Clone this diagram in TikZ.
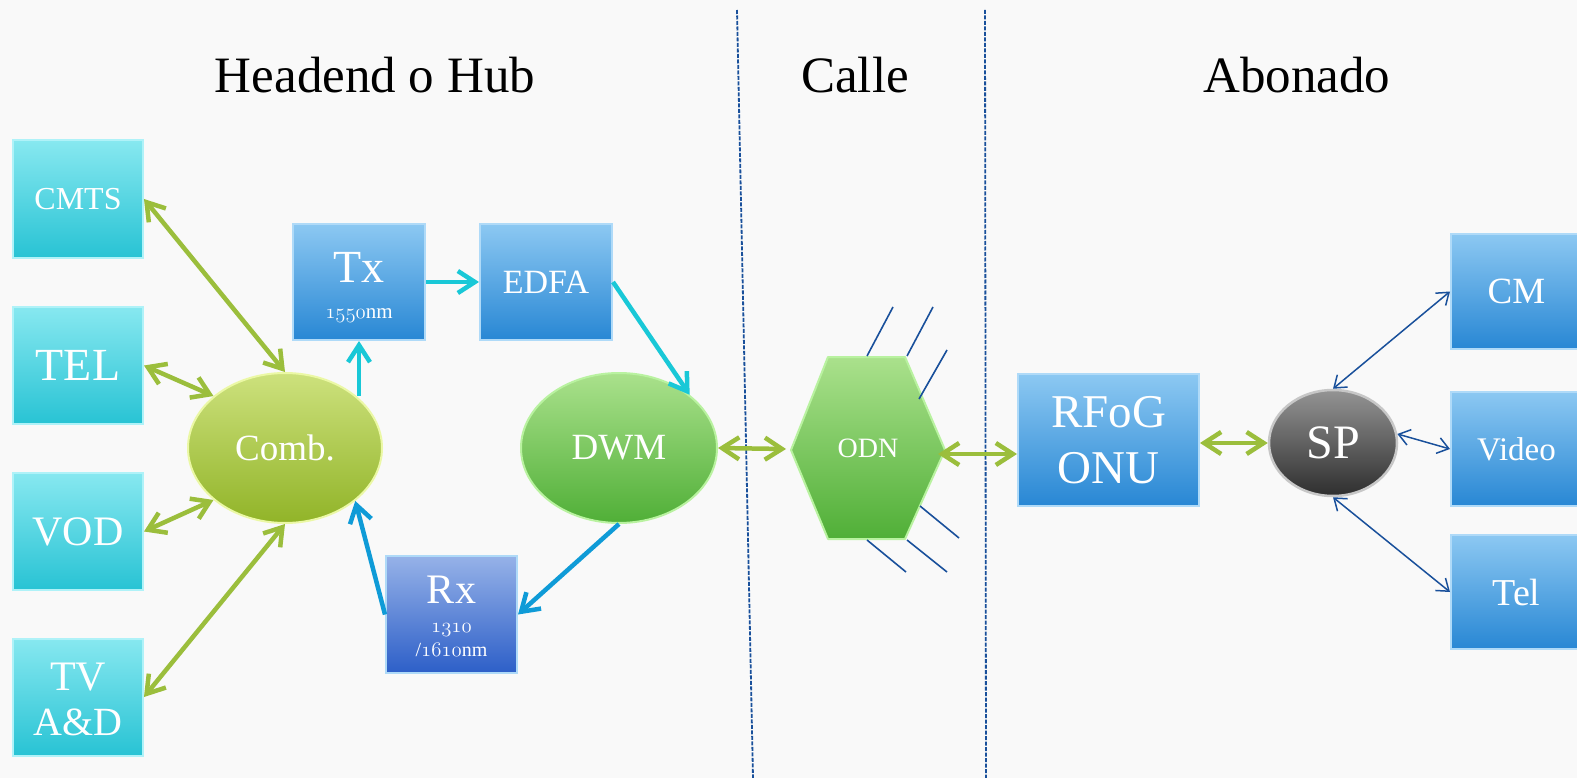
\documentclass[tikz,border=0pt]{standalone}
\usepackage{fontspec}
\setmainfont{Liberation Serif}
\usetikzlibrary{arrows.meta,shapes.geometric,calc}
\definecolor{bg}{RGB}{249,249,249}
\definecolor{grn}{RGB}{155,190,60}
\definecolor{cy}{RGB}{25,200,215}
\definecolor{bl}{RGB}{15,155,215}
\definecolor{dk}{RGB}{25,80,155}
\definecolor{cytop}{RGB}{135,232,240}
\definecolor{cybot}{RGB}{40,195,212}
\definecolor{cyedge}{RGB}{175,242,248}
\definecolor{bltop}{RGB}{140,200,242}
\definecolor{blbot}{RGB}{40,135,212}
\definecolor{bledge}{RGB}{175,218,248}
\definecolor{rxtop}{RGB}{150,178,232}
\definecolor{rxbot}{RGB}{45,95,200}
\definecolor{cbtop}{RGB}{205,225,125}
\definecolor{cbbot}{RGB}{145,180,40}
\definecolor{cbedge}{RGB}{235,248,165}
\definecolor{dwtop}{RGB}{170,225,140}
\definecolor{dwbot}{RGB}{80,175,55}
\definecolor{dwedge}{RGB}{185,242,160}
\newcommand\fsz[1]{\fontsize{#1}{#1}\selectfont}
\newcommand\osn[1]{{\fontencoding{OML}\fontfamily{lmm}\fontseries{m}\fontshape{it}\selectfont #1}}
\tikzset{
  cybox/.style={rectangle, minimum width=130pt, minimum height=117pt, inner sep=0pt,
    top color=cytop, bottom color=cybot, draw=cyedge, line width=2pt, text=white},
  blbox/.style={rectangle, minimum width=132pt, minimum height=116pt, inner sep=0pt,
    top color=bltop, bottom color=blbot, draw=bledge, line width=2pt, text=white},
  rxbox/.style={rectangle, minimum width=131pt, minimum height=117pt, inner sep=0pt,
    top color=rxtop, bottom color=rxbot, draw=bledge, line width=2pt, text=white},
  lbl/.style={text=white, inner sep=0pt, anchor=base},
  title/.style={font=\fsz{51}, text=black},
  garrow/.style={draw=grn, line width=4.5pt,
    {Straight Barb[length=17pt,width=22pt]}-{Straight Barb[length=17pt,width=22pt]}},
  carrow/.style={draw=cy, line width=4.5pt, -{Straight Barb[length=17pt,width=22pt]}},
  barrow/.style={draw=bl, line width=4.5pt, -{Straight Barb[length=17pt,width=22pt]}},
  darrow/.style={draw=dk, line width=1.5pt,
    {Straight Barb[length=11pt,width=16pt]}-{Straight Barb[length=11pt,width=16pt]}},
  sepline/.style={draw=dk, line width=1.8pt, dash pattern=on 4pt off 1.5pt},
  fiber/.style={draw=dk, line width=1.6pt}
}
\begin{document}
\begin{tikzpicture}[x=1pt,y=-1pt]
\useasboundingbox (0,0) rectangle (1577,778);
\fill[bg] (0,0) rectangle (1577,778);

% separators
\coordinate (s1a) at (737,10); \coordinate (s1b) at (753,778);
\coordinate (s2a) at (985,10); \coordinate (s2b) at (986,778);
\draw[sepline] (s1a) -- (s1b);
\draw[sepline] (s2a) -- (s2b);

% titles
\node[title] (th) at (375,75) {Headend o Hub};
\node[title] (tc) at (855,75) {Calle};
\node[title] (ta) at (1297,75) {Abonado};

% left boxes
\node[cybox, font=\fsz{32}] (cmts) at (78,199) {CMTS};
\node[cybox, font=\fsz{46}] (tel) at (78,365.5) {TEL};
\node[cybox, font=\fsz{42}] (vod) at (78,531.5) {VOD};
\node[cybox] (tv) at (78,697) {};
\node[lbl, font=\fsz{42}] (tvA) at (78,690) {TV};
\node[lbl, font=\fsz{40}] (tvB) at (78,735) {A\&D};

% comb
\node[ellipse, minimum width=194pt, minimum height=150pt, inner sep=0pt,
  top color=cbtop, bottom color=cbbot, draw=cbedge, line width=2pt,
  text=white, font=\fsz{37}] (comb) at (285,448) {Comb.};

% Tx, EDFA
\node[blbox] (tx) at (359,282) {};
\node[lbl, font=\fsz{46}] (txA) at (359,283) {Tx};
\node[lbl, font=\fsz{21}] (txB) at (359,318) {\osn{1550}nm};
\node[blbox, font=\fsz{34}] (edfa) at (546,282) {EDFA};

% DWM
\node[ellipse, minimum width=196pt, minimum height=150pt, inner sep=0pt,
  top color=dwtop, bottom color=dwbot, draw=dwedge, line width=2pt,
  text=white, font=\fsz{37}] (dwm) at (619,448) {DWM};

% Rx
\node[rxbox] (rx) at (451.5,614.5) {};
\node[lbl, font=\fsz{42}] (rxA) at (451.5,603) {Rx};
\node[lbl, font=\fsz{20}] (rxB) at (451.5,632) {\osn{1310}};
\node[lbl, font=\fsz{20}] (rxC) at (451.5,656) {/\osn{1610}nm};

% ODN hexagon
\coordinate (h1) at (828,357); \coordinate (h2) at (905,357);
\coordinate (h3) at (945,450); \coordinate (h4) at (905,539);
\coordinate (h5) at (828,539); \coordinate (h6) at (791,450);
\shade[top color=dwtop, bottom color=dwbot] (h1) -- (h2) -- (h3) -- (h4) -- (h5) -- (h6) -- cycle;
\draw[dwedge, line width=2pt, line join=round] (h1) -- (h2) -- (h3) -- (h4) -- (h5) -- (h6) -- cycle;
\node[text=white, font=\fsz{28}] (odn) at (868,448) {ODN};
\coordinate (odnL) at (786,449);
\coordinate (odnR) at (938,454);

% fibers
\coordinate (f1a) at (867,356); \coordinate (f1b) at (893,307);
\coordinate (f2a) at (907,356); \coordinate (f2b) at (933,307);
\coordinate (f3a) at (919,399); \coordinate (f3b) at (947,350);
\coordinate (f4a) at (920,506); \coordinate (f4b) at (959,538);
\coordinate (f5a) at (907,540); \coordinate (f5b) at (947,572);
\coordinate (f6a) at (867,540); \coordinate (f6b) at (906,572);
\draw[fiber] (f1a) -- (f1b);
\draw[fiber] (f2a) -- (f2b);
\draw[fiber] (f3a) -- (f3b);
\draw[fiber] (f4a) -- (f4b);
\draw[fiber] (f5a) -- (f5b);
\draw[fiber] (f6a) -- (f6b);

% subscriber side
\node[blbox, minimum width=181pt, minimum height=132pt] (rfog) at (1108.5,440) {};
\node[lbl, font=\fsz{47}] (rfA) at (1108.5,427) {RFoG};
\node[lbl, font=\fsz{47}] (rfB) at (1108.5,483) {ONU};
\node[ellipse, minimum width=128pt, minimum height=106pt, inner sep=0pt,
  top color=black!42, bottom color=black!82, draw=black!22, line width=2.5pt,
  text=white, font=\fsz{48}] (sp) at (1333,443) {SP};
\node[blbox, minimum width=131pt, minimum height=115pt, font=\fsz{37}] (cm) at (1516.5,291.5) {CM};
\node[blbox, minimum width=131pt, minimum height=114pt, font=\fsz{33}] (video) at (1516.5,449) {Video};
\node[blbox, minimum width=131pt, minimum height=114pt, font=\fsz{38}] (telr) at (1516.5,592) {Tel};

% connectors
\draw[garrow] (cmts.east) -- (comb.north);
\draw[garrow] (tel.east) -- (comb.144);
\draw[garrow] (vod.east) -- (comb.216);
\draw[garrow] (tv.east) -- (comb.south);
\draw[carrow] (comb.36 -| tx.south) -- (tx.south);
\draw[carrow] (tx.east) -- (edfa.west);
\draw[carrow] (edfa.east) -- (dwm.37);
\draw[barrow] (dwm.south) -- (rx.east);
\draw[barrow] (rx.west) -- (comb.323);
\draw[garrow] (dwm.east) -- (odnL);
\draw[garrow] (odnR) -- (rfog.west |- odnR);
\draw[garrow] (rfog.east |- sp.west) -- (sp.west);
\draw[darrow] (sp.north) -- (cm.west);
\draw[darrow] (sp.8) -- (video.west);
\draw[darrow] (sp.south) -- (telr.west);
\end{tikzpicture}
\end{document}
